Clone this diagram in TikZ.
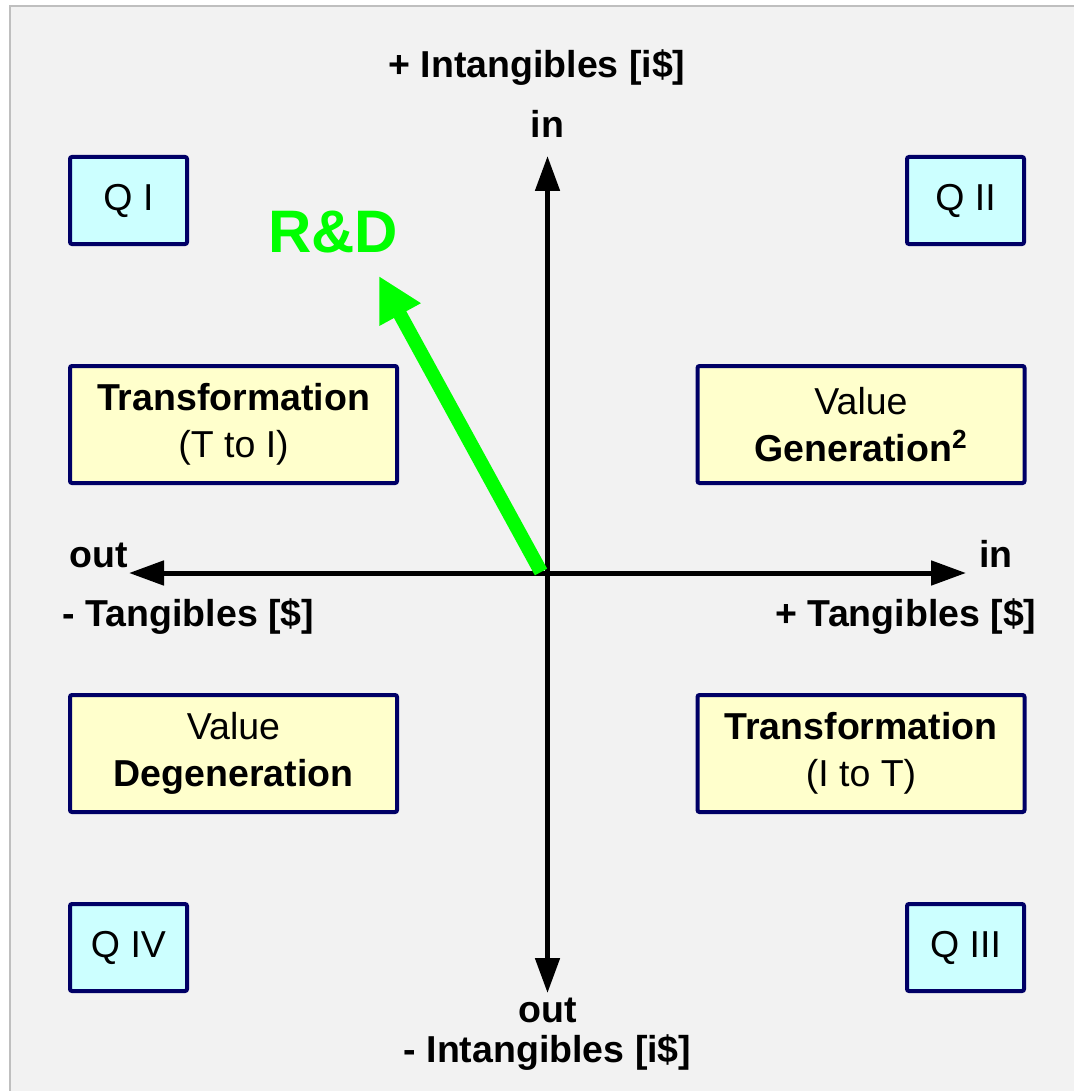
\documentclass[tikz,border=0pt]{standalone}
\usepackage{fontspec}
\setmainfont{Liberation Sans}
\usepackage{tikz}
\usetikzlibrary{arrows.meta,positioning}
\definecolor{qcyan}{HTML}{CCFFFF}
\definecolor{qyellow}{HTML}{FFFFCC}
\definecolor{qnavy}{HTML}{000066}
\definecolor{qgreen}{HTML}{00FF00}
\definecolor{qback}{HTML}{F2F2F2}
\tikzset{
  >=Stealth,
  every node/.append style={font=\fontsize{18.75}{23.5}\selectfont},
}
\tikzset{
  quad/.style={draw=qnavy, line width=2pt, rounded corners=1pt, fill=qcyan,
               minimum width=58.5pt, minimum height=43.5pt, inner sep=0pt},
  field/.style={draw=qnavy, line width=2pt, rounded corners=1pt, fill=qyellow,
                minimum width=163.5pt, minimum height=58.5pt, align=center, inner sep=0pt},
  axis/.style={{Triangle[length=17.5pt,width=12pt]}-{Triangle[length=17.5pt,width=12pt]}, line width=2.5pt},
  axislabel/.style={font=\fontsize{18.75}{23.5}\selectfont\bfseries, anchor=base, inner sep=0pt}
}
\begin{document}
\begin{tikzpicture}[
  x=0.5pt, y=-0.5pt,
  push/.style={-{Triangle[length=22pt,width=22pt]}, line width=7pt, draw=qgreen},
  push label/.style={font=\fontsize{30}{36}\selectfont\bfseries, text=qgreen, inner sep=0pt}
]
\useasboundingbox (0,0) rectangle (1073,1091);
\fill[white] (0,0) rectangle (1073,1091);
\filldraw[fill=qback, draw=black!25, line width=0.6pt] (10,6) rectangle (1080,1100);

% Quadrant tags
\node[quad] (q1) at (128.5,200.5) {Q I};
\node[quad] (q2) at (965.5,200.5) {Q II};
\node[quad] (q3) at (965.5,947.5) {Q III};
\node[quad] (q4) at (128.5,947.5) {Q IV};

% Fields
\node[field] (ttoi) at (233.5,424.5) {\textbf{Transformation}\\(T to I)};
\node[field] (gen) at (861,424.5) {Value\\\textbf{Generation\textsuperscript{2}}};
\node[field] (degen) at (233.5,753.5) {Value\\\textbf{Degeneration}};
\node[field] (itot) at (861,753.5) {\textbf{Transformation}\\(I to T)};

% Axes
\coordinate (origin) at (547.5,573);
\coordinate (xin) at (966,573);
\coordinate (xout) at (129,573);
\coordinate (yin) at (547.5,156);
\coordinate (yout) at (547.5,993);
\draw[axis] (xout) -- (xin);
\draw[axis] (yout) -- (yin);

% Axis labels
\node[axislabel] (intang) at (537,78) {+ Intangibles [i\$]};
\node[axislabel] (yinlabel) at (547.5,138) {in};
\node[axislabel] (xoutlabel) at (99,567) {out};
\node[axislabel] (xinlabel) at (996,567) {in};
\node[axislabel] (mtang) at (188.5,626) {- Tangibles [\$]};
\node[axislabel] (ptang) at (906,626) {+ Tangibles [\$]};
\node[axislabel] (youtlabel) at (547.5,1022) {out};
\node[axislabel] (mintang) at (547.5,1062) {- Intangibles [i\$]};

% R&D push
\coordinate (rdstart) at (541,572);
\coordinate (rdtip) at (379,276);
\draw[push] (rdstart) -- (rdtip);
\node[push label] (rd) at (333,232) {R\&D};

\end{tikzpicture}
\end{document}
